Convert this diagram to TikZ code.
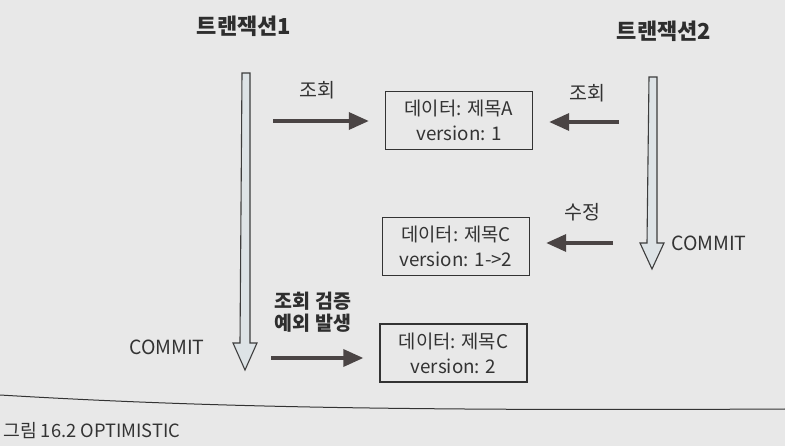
\documentclass[tikz,border=0pt]{standalone}
\usepackage{fontspec}
\setmainfont{Noto Sans CJK KR}
\usetikzlibrary{arrows.meta}
\definecolor{bgc}{HTML}{E8E8E8}
\definecolor{ink}{HTML}{333333}
\definecolor{arr}{HTML}{4A4444}
\definecolor{barfill}{HTML}{DDE3E6}
\begin{document}
\begin{tikzpicture}[x=1pt,y=-1pt,
  txt/.style={text=ink,font=\fontsize{19.5}{22}\selectfont,inner sep=0pt},
  title/.style={text=ink!90!black,font=\fontsize{22}{24}\selectfont\bfseries,inner sep=0pt},
  box/.style={draw=ink,line width=1.4pt,fill=none,align=center,text=ink,
     font=\fontsize{18.8}{25}\selectfont,minimum width=147pt,minimum height=58pt,inner sep=0pt},
  harrow/.style={draw=arr,line width=3.5pt,-{Triangle[length=20pt,width=17pt]},shorten >=16pt},
  varrow/.style={draw=ink!95,line width=1.1pt,fill=barfill,line join=miter}
]
\fill[bgc] (0,0) rectangle (785,446);
\useasboundingbox (0,0) rectangle (785,446);

% titles
\node[title] (t1) at (244,26) {트랜잭션1};
\node[title] (t2) at (664,31) {트랜잭션2};

% vertical transaction arrows
\draw[varrow] (242,73) -- (250,73) -- (250,343) -- (257,343) -- (245,370) -- (233,343) -- (240,343) -- cycle;
\draw[varrow] (649,77) -- (657,77) -- (657,243) -- (664,243) -- (652,269) -- (640,243) -- (647,243) -- cycle;

% data boxes
\node[box] (d1) at (459,120.5) {데이터: 제목A\\version: 1};
\node[box] (d2) at (456,246.5) {데이터: 제목C\\version: 1-{}>2};
\node[box] (d3) at (453.5,353) {데이터: 제목C\\version: 2};

% arrows
\coordinate (s1) at (273,121);
\coordinate (s2) at (619,122);
\coordinate (s3) at (613,243);
\coordinate (s4) at (271,358);
\draw[harrow] (s1) -- (s1 -| d1.west);
\draw[harrow] (s2) -- (s2 -| d1.east);
\draw[harrow] (s3) -- (s3 -| d2.east);
\draw[harrow] (s4) -- (s4 -| d3.west);

% labels
\node[txt] (l1) at (317,90) {조회};
\node[txt] (l2) at (587,93) {조회};
\node[txt] (l3) at (582,212) {수정};
\node[txt] (c2) at (709,243) {COMMIT};
\node[txt] (c1) at (167,347) {COMMIT};
\node[title,align=center,font=\fontsize{19.5}{22}\selectfont\bfseries] (l4) at (313,312) {조회 검증\\예외 발생};

% bottom rule and caption
\draw[ink,line width=1pt] (0,395) .. controls (200,407) and (400,411) .. (785,409);
\node[txt,anchor=west,font=\fontsize{18.3}{20}\selectfont] (cap) at (3,431) {그림 16.2 OPTIMISTIC};
\end{tikzpicture}
\end{document}
